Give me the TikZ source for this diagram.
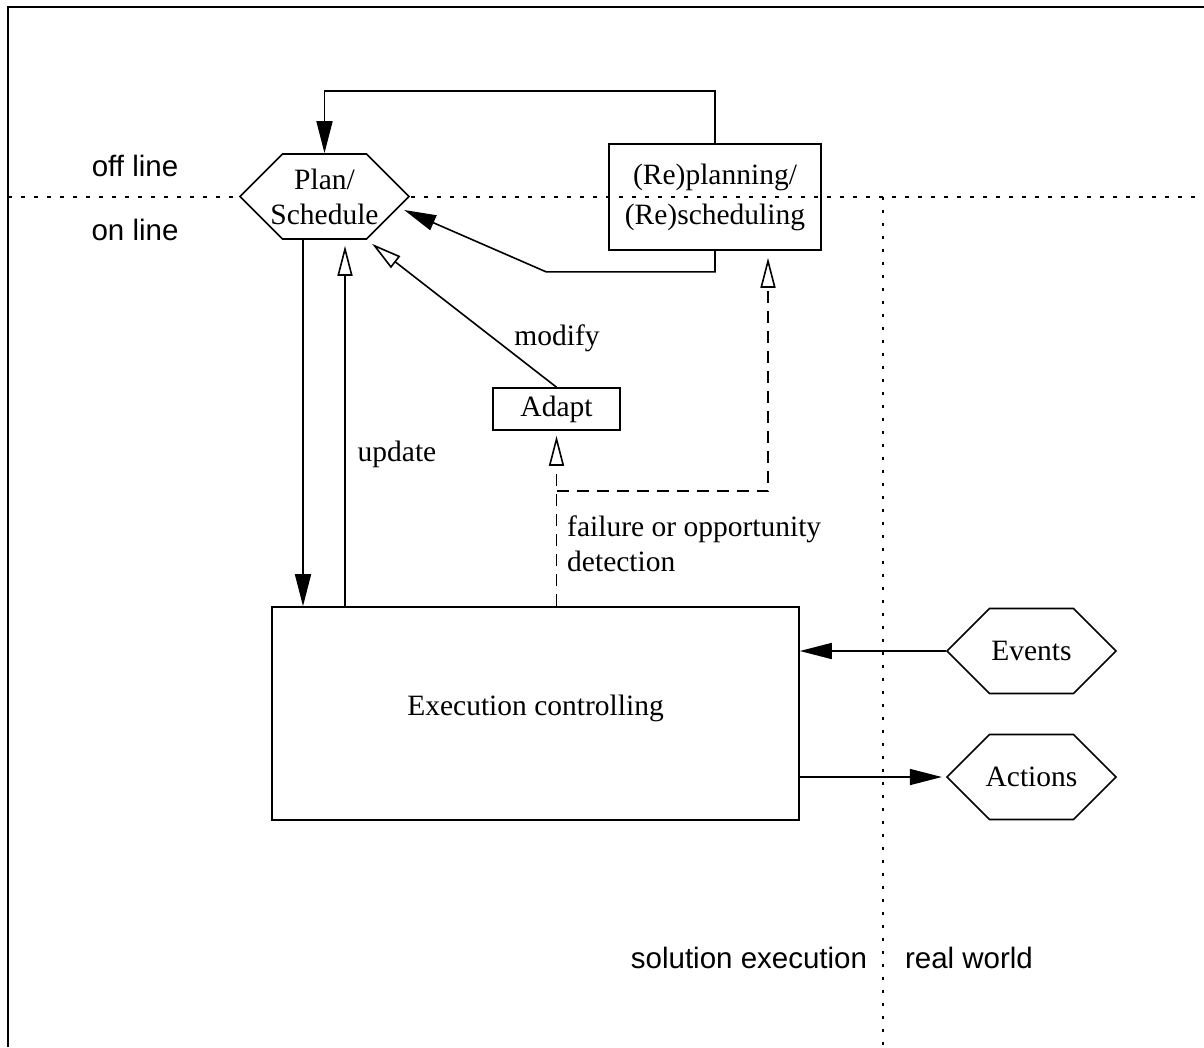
\documentclass[tikz,border=0pt]{standalone}
\usepackage{fontspec}
\setmainfont{Liberation Serif}
\setsansfont{Liberation Sans}
\usetikzlibrary{arrows.meta,shapes.symbols,calc}
\begin{document}
\begin{tikzpicture}[x=1pt,y=1pt,
  every node/.style={font=\fontsize{29.5}{35}\selectfont},
  line/.style={line width=1.6pt},
  hexa/.style={draw, line width=1.6pt, fill=white, signal, signal to=east and west,
    signal pointer angle=90, minimum width=169pt, minimum height=85pt, inner sep=0pt},
  hextext/.style={label={[align=center, inner sep=0pt]center:#1}},
  box/.style={draw, line width=1.6pt, rectangle, inner sep=0pt, align=center},
  sepline/.style={line width=2pt, dash pattern=on 3.5pt off 9.5pt},
  fwd/.style={line, -{Triangle[length=32pt,width=16pt]}},
  opn/.style={line, -{Triangle[open,length=30pt,width=15pt]}},
  dsh/.style={dash pattern=on 12pt off 8pt},
  lbl/.style={font=\sffamily\fontsize{29.5}{35}\selectfont},
  txt/.style={inner sep=0pt, align=left},
]
\useasboundingbox (0,0) rectangle (1204,-1047);
\draw[sepline] (8,-196.5) -- (1204,-196.5);
\draw[sepline] (883,-196.5) -- (883,-1047);
\draw[line width=1.8pt] (8,-1047) -- (8,-7) -- (1204,-7);

\node[hexa, hextext={Plan/\\Schedule}] (plan) at (324.5,-196.5) {};
\node[box, minimum width=212pt, minimum height=106pt,
  font=\fontsize{29.5}{40}\selectfont] (replan) at (715,-197) {(Re)planning/\\(Re)scheduling};
\node[box, minimum width=127pt, minimum height=42pt] (adapt) at (556.5,-409) {Adapt};
\node[box, minimum width=527pt, minimum height=213pt,
  label={[inner sep=0pt, yshift=5pt]center:Execution controlling}] (exec) at (535.5,-713.5) {};
\node[hexa, hextext={Events}] (events) at (1031.5,-651) {};
\node[hexa, hextext={Actions}] (actions) at (1031.5,-777) {};

\draw[fwd] (replan.north) -- ++(0,52) -| (plan.north);
\draw[fwd] (replan.south) -- ++(0,-21) -- ++(-169,0) -- ([xshift=-6pt,yshift=-13.5pt]plan.east);
\draw[fwd] ([xshift=-21.5pt]plan.south) -- ([xshift=-21.5pt]plan.south |- exec.north);
\draw[opn] ([xshift=20.5pt]plan.south |- exec.north) -- ([xshift=20.5pt,yshift=-6pt]plan.south);
\draw[opn] (adapt.north) -- ([xshift=47.5pt,yshift=-4pt]plan.south);
\draw[opn, dsh] (adapt.south |- exec.north) -- ([yshift=-5pt]adapt.south);
\draw[opn, dsh] ([yshift=115pt]adapt.south |- exec.north) -| ([xshift=53pt,yshift=-7pt]replan.south);
\draw[fwd] (events.west) -- (events.west -| exec.east);
\draw[fwd] (exec.east |- actions.west) -- ([xshift=-4pt]actions.west);

\node[txt] (modify) at (557,-338) {modify};
\node[txt] (update) at (397,-454) {update};
\node[txt, anchor=west] (fail) at (567,-544) {failure or opportunity\\detection};
\node[lbl] (off) at (135,-166) {off line};
\node[lbl] (on) at (135,-230) {on line};
\node[lbl] (sol) at (749,-958) {solution execution};
\node[lbl] (real) at (969,-958) {real world};
\end{tikzpicture}
\end{document}
